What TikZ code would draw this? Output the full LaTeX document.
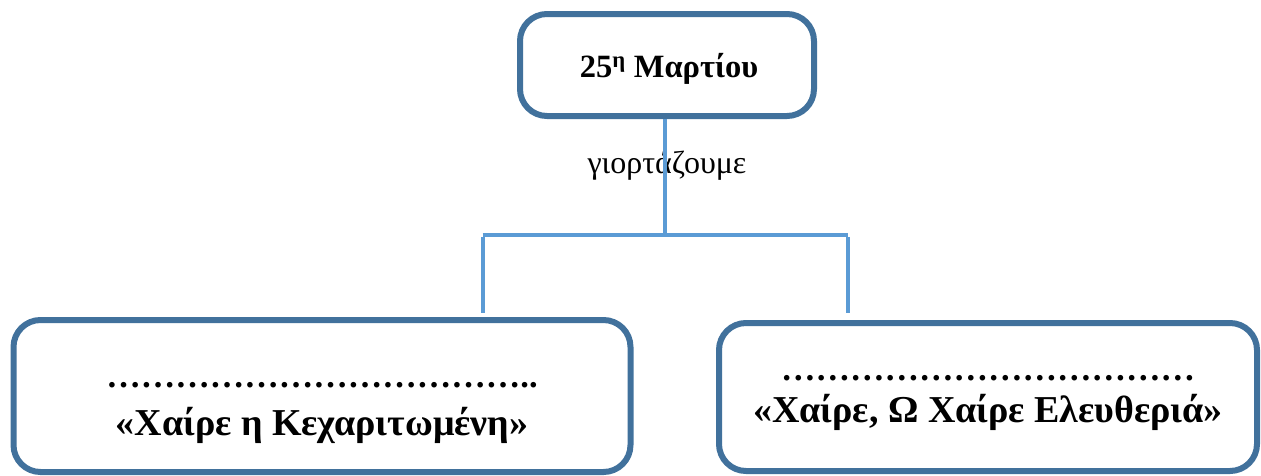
\documentclass[tikz,border=0pt]{standalone}
\usepackage{fontspec}
\setmainfont{Liberation Serif}
\definecolor{boxblue}{HTML}{41719C}
\definecolor{lineblue}{HTML}{5B9BD5}
\begin{document}
\begin{tikzpicture}[x=1pt,y=-1pt,
  rbox/.style={draw=boxblue,line width=6pt,rounded corners=27pt,fill=white,inner sep=0pt},
  conn/.style={draw=lineblue,line width=4pt},
  btxt/.style={anchor=base,inner sep=0pt,font=\fontsize{38}{42}\selectfont\bfseries},
  dtxt/.style={anchor=base,inner sep=0pt,font=\fontsize{34.5}{40}\selectfont\bfseries},
]
\useasboundingbox (0,0) rectangle (1261,475);
% boxes
\node[rbox,minimum width=294pt,minimum height=102pt] (top) at (667,65) {};
\node[rbox,minimum width=617pt,minimum height=152pt] (left) at (322,396) {};
\node[rbox,minimum width=538pt,minimum height=148pt] (right) at (988,397) {};
% texts
\node[anchor=base,inner sep=0pt,font=\fontsize{32.5}{36}\selectfont\bfseries] (toptxt) at (669,77) {25\textsuperscript{η} Μαρτίου};
\node[anchor=base,inner sep=0pt,font=\fontsize{32}{36}\selectfont] (lab) at (667,173) {γιορτάζουμε};
\node[dtxt] (ldots) at (322,387) {………………………………..};
\node[btxt] (ltxt) at (322,435) {«Χαίρε η Κεχαριτωμένη»};
\node[dtxt] (rdots) at (988,380) {………………………………};
\node[btxt] (rtxt) at (988,422) {«Χαίρε, Ω Χαίρε Ελευθεριά»};
% connectors
\coordinate (j) at (665,235);
\coordinate (jl) at (482.5,235);
\coordinate (jr) at (848,235);
\draw[conn] (top.south -| j) -- (j);
\draw[conn] (jl) -- (jr);
\draw[conn,shorten >=4pt] ([yshift=-2pt]jl) -- (jl |- left.north);
\draw[conn,shorten >=7pt] ([yshift=-2pt]jr) -- (jr |- right.north);
\end{tikzpicture}
\end{document}
